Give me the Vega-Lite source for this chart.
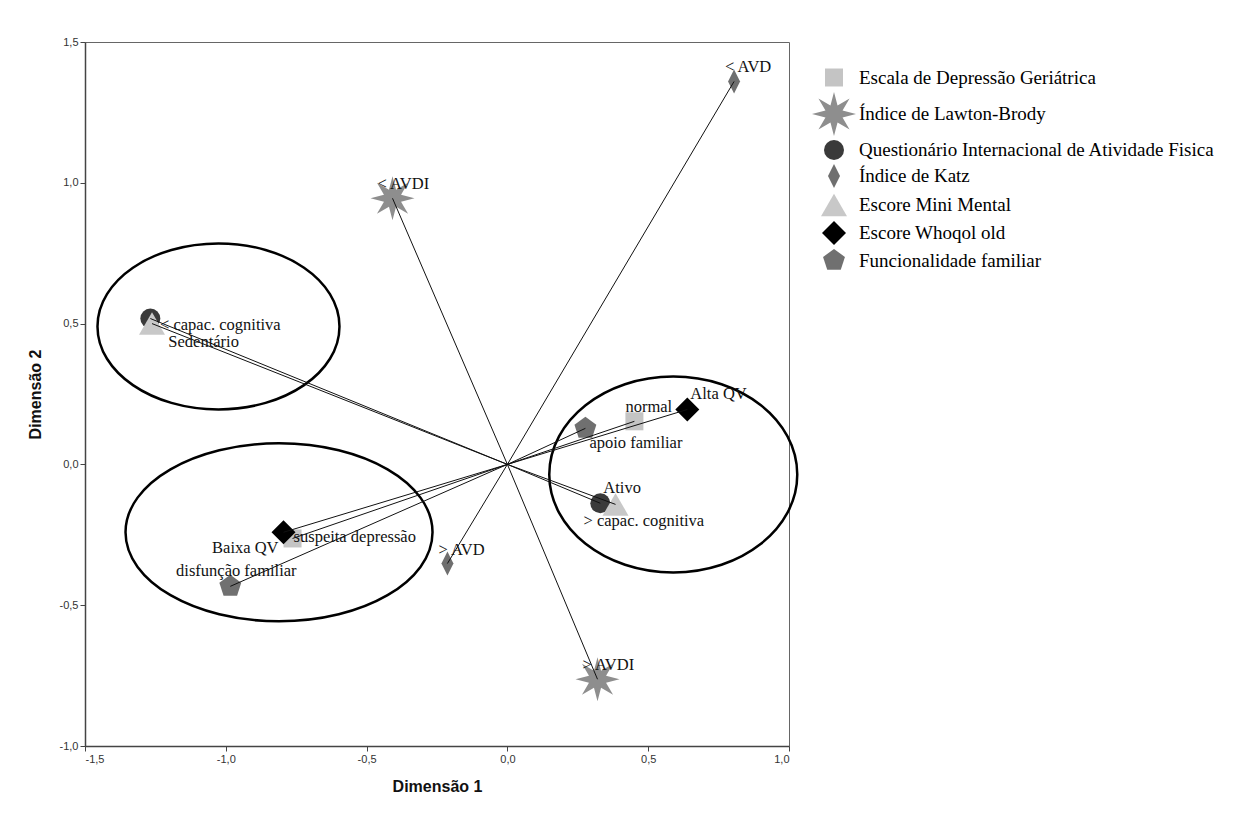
{
  "$schema": "https://vega.github.io/schema/vega-lite/v6.json",
  "width": 704,
  "height": 704,
  "autosize": {"type": "none"},
  "padding": {"left": 85, "top": 42, "right": 451, "bottom": 67},
  "background": "white",
  "config": {
    "view": {"stroke": "#666", "strokeWidth": 1},
    "axis": {
      "grid": false,
      "domainColor": "#444",
      "domainWidth": 1.5,
      "tickColor": "#444",
      "tickSize": 5,
      "tickWidth": 1,
      "labelColor": "#333",
      "labelFont": "Liberation Sans",
      "labelFontSize": 11,
      "labelPadding": 2,
      "titleFont": "Liberation Sans Narrow, Liberation Sans",
      "titleFontWeight": "bold",
      "titleFontSize": 16,
      "titleColor": "#111"
    },
    "text": {"font": "Liberation Serif", "fontSize": 16.5, "color": "#111", "baseline": "middle"}
  },
  "datasets": {
    "pontos": [
      {"variavel": "Escala de Depressão Geriátrica", "categoria": "normal", "d1": 0.451, "d2": 0.153},
      {"variavel": "Escala de Depressão Geriátrica", "categoria": "suspeita depressão", "d1": -0.763, "d2": -0.263},
      {"variavel": "Índice de Lawton-Brody", "categoria": "< AVDI", "d1": -0.408, "d2": 0.945},
      {"variavel": "Índice de Lawton-Brody", "categoria": "> AVDI", "d1": 0.32, "d2": -0.763},
      {"variavel": "Questionário Internacional de Atividade Fisica", "categoria": "Sedentário", "d1": -1.268, "d2": 0.518},
      {"variavel": "Questionário Internacional de Atividade Fisica", "categoria": "Ativo", "d1": 0.33, "d2": -0.138},
      {"variavel": "Índice de Katz", "categoria": "< AVD", "d1": 0.805, "d2": 1.36},
      {"variavel": "Índice de Katz", "categoria": "> AVD", "d1": -0.213, "d2": -0.352},
      {"variavel": "Escore Mini Mental", "categoria": "< capac. cognitiva", "d1": -1.262, "d2": 0.5},
      {"variavel": "Escore Mini Mental", "categoria": "> capac. cognitiva", "d1": 0.384, "d2": -0.142},
      {"variavel": "Escore Whoqol old", "categoria": "Alta QV", "d1": 0.639, "d2": 0.195},
      {"variavel": "Escore Whoqol old", "categoria": "Baixa QV", "d1": -0.795, "d2": -0.241},
      {"variavel": "Funcionalidade familiar", "categoria": "apoio familiar", "d1": 0.277, "d2": 0.128},
      {"variavel": "Funcionalidade familiar", "categoria": "disfunção familiar", "d1": -0.984, "d2": -0.433}
    ],
    "elipses": [
      {"grupo": "A", "d1": -1.026, "d2": 0.49},
      {"grupo": "B", "d1": -0.811, "d2": -0.241},
      {"grupo": "C", "d1": 0.589, "d2": -0.036}
    ]
  },
  "encoding": {
    "x": {
      "field": "d1", "type": "quantitative",
      "scale": {"domain": [-1.5, 1.0], "nice": false, "zero": false},
      "axis": {"values": [-1.5, -1, -0.5, 0, 0.5, 1], "labelExpr": "replace(replace(format(datum.value, '.1f'), '.', ','), '\u2212', '-')", "title": "Dimensão 1", "titlePadding": 14}
    },
    "y": {
      "field": "d2", "type": "quantitative",
      "scale": {"domain": [-1.0, 1.5], "nice": false, "zero": false},
      "axis": {"values": [-1, -0.5, 0, 0.5, 1, 1.5], "labelExpr": "replace(replace(format(datum.value, '.1f'), '.', ','), '\u2212', '-')", "title": "Dimensão 2", "titlePadding": 16}
    }
  },
  "layer": [
    {
      "data": {"name": "elipses"},
      "transform": [{"filter": "datum.grupo === 'A'"}],
      "mark": {"type": "point", "filled": false, "color": "black", "opacity": 1, "strokeWidth": 2.5, "size": 58564,
        "shape": "M-1,0C-1,-0.379,-0.552,-0.686,0,-0.686C0.552,-0.686,1,-0.379,1,0C1,0.379,0.552,0.686,0,0.686C-0.552,0.686,-1,0.379,-1,0Z"}
    },
    {
      "data": {"name": "elipses"},
      "transform": [{"filter": "datum.grupo === 'B'"}],
      "mark": {"type": "point", "filled": false, "color": "black", "opacity": 1, "strokeWidth": 2.5, "size": 94249,
        "shape": "M-1,0C-1,-0.32,-0.552,-0.58,0,-0.58C0.552,-0.58,1,-0.32,1,0C1,0.32,0.552,0.58,0,0.58C-0.552,0.58,-1,0.32,-1,0Z"}
    },
    {
      "data": {"name": "elipses"},
      "transform": [{"filter": "datum.grupo === 'C'"}],
      "mark": {"type": "point", "filled": false, "color": "black", "opacity": 1, "strokeWidth": 2.5, "size": 61504,
        "shape": "M-1,0C-1,-0.436,-0.552,-0.79,0,-0.79C0.552,-0.79,1,-0.436,1,0C1,0.436,0.552,0.79,0,0.79C-0.552,0.79,-1,0.436,-1,0Z"}
    },
    {
      "data": {"name": "pontos"},
      "mark": {"type": "point", "filled": true, "opacity": 1, "strokeWidth": 0},
      "encoding": {
        "shape": {
          "field": "variavel", "type": "nominal",
          "scale": {
            "domain": ["Escala de Depressão Geriátrica", "Índice de Lawton-Brody", "Questionário Internacional de Atividade Fisica", "Índice de Katz", "Escore Mini Mental", "Escore Whoqol old", "Funcionalidade familiar"],
            "range": ["square", "M0,-1L0.161,-0.388L0.707,-0.707L0.388,-0.161L1,0L0.388,0.161L0.707,0.707L0.161,0.388L0,1L-0.161,0.388L-0.707,0.707L-0.388,0.161L-1,0L-0.388,-0.161L-0.707,-0.707L-0.161,-0.388Z", "circle", "M0,-1L0.5,0L0,1L-0.5,0Z", "triangle-up", "diamond", "M0,-1L0.951,-0.309L0.588,0.809L-0.588,0.809L-0.951,-0.309Z"]
          },
          "legend": {"title": null, "orient": "none", "legendX": 727, "legendY": 26, "labelFont": "Liberation Serif", "labelFontSize": 19, "labelColor": "#000", "labelLimit": 600, "rowPadding": 4, "labelOffset": 3, "padding": 0, "symbolStrokeWidth": 0}
        },
        "color": {
          "field": "variavel", "type": "nominal",
          "scale": {
            "domain": ["Escala de Depressão Geriátrica", "Índice de Lawton-Brody", "Questionário Internacional de Atividade Fisica", "Índice de Katz", "Escore Mini Mental", "Escore Whoqol old", "Funcionalidade familiar"],
            "range": ["#c4c4c4", "#8e8e8e", "#3a3a3a", "#6f6f6f", "#c8c8c8", "#000000", "#707070"]
          },
          "legend": {"title": null, "orient": "none", "legendX": 727, "legendY": 26, "labelFont": "Liberation Serif", "labelFontSize": 19, "labelColor": "#000", "labelLimit": 600, "rowPadding": 4, "labelOffset": 3, "padding": 0, "symbolStrokeWidth": 0}
        },
        "size": {
          "field": "variavel", "type": "nominal",
          "scale": {
            "type": "ordinal",
            "domain": ["Escala de Depressão Geriátrica", "Índice de Lawton-Brody", "Questionário Internacional de Atividade Fisica", "Índice de Katz", "Escore Mini Mental", "Escore Whoqol old", "Funcionalidade familiar"],
            "range": [324, 1936, 400, 576, 676, 576, 529]
          },
          "legend": {"title": null, "orient": "none", "legendX": 727, "legendY": 26, "labelFont": "Liberation Serif", "labelFontSize": 19, "labelColor": "#000", "labelLimit": 600, "rowPadding": 4, "labelOffset": 3, "padding": 0, "symbolStrokeWidth": 0}
        }
      }
    },
    {
      "data": {"name": "pontos"},
      "mark": {"type": "rule", "color": "#111", "strokeWidth": 1},
      "encoding": {"x2": {"datum": 0}, "y2": {"datum": 0}}
    },
    {
      "data": {"name": "pontos"},
      "transform": [{"filter": {"field": "categoria", "oneOf": ["< AVD", "> AVD", "normal"]}}],
      "mark": {"type": "text", "align": "left", "dx": -9, "dy": -14},
      "encoding": {"text": {"field": "categoria"}}
    },
    {
      "data": {"name": "pontos"},
      "transform": [{"filter": {"field": "categoria", "oneOf": ["< AVDI", "> AVDI"]}}],
      "mark": {"type": "text", "align": "left", "dx": -15, "dy": -14},
      "encoding": {"text": {"field": "categoria"}}
    },
    {
      "data": {"name": "pontos"},
      "transform": [{"filter": {"field": "categoria", "oneOf": ["Alta QV", "Ativo"]}}],
      "mark": {"type": "text", "align": "left", "dx": 3, "dy": -15},
      "encoding": {"text": {"field": "categoria"}}
    },
    {
      "data": {"name": "pontos"},
      "transform": [{"filter": {"field": "categoria", "oneOf": ["apoio familiar"]}}],
      "mark": {"type": "text", "align": "left", "dx": 4, "dy": 15},
      "encoding": {"text": {"field": "categoria"}}
    },
    {
      "data": {"name": "pontos"},
      "transform": [{"filter": {"field": "categoria", "oneOf": ["> capac. cognitiva"]}}],
      "mark": {"type": "text", "align": "left", "dx": -32, "dy": 17},
      "encoding": {"text": {"field": "categoria"}}
    },
    {
      "data": {"name": "pontos"},
      "transform": [{"filter": {"field": "categoria", "oneOf": ["< capac. cognitiva"]}}],
      "mark": {"type": "text", "align": "left", "dx": 8, "dy": 1},
      "encoding": {"text": {"field": "categoria"}}
    },
    {
      "data": {"name": "pontos"},
      "transform": [{"filter": {"field": "categoria", "oneOf": ["Sedentário"]}}],
      "mark": {"type": "text", "align": "left", "dx": 18, "dy": 23},
      "encoding": {"text": {"field": "categoria"}}
    },
    {
      "data": {"name": "pontos"},
      "transform": [{"filter": {"field": "categoria", "oneOf": ["Baixa QV"]}}],
      "mark": {"type": "text", "align": "right", "dx": -5, "dy": 16},
      "encoding": {"text": {"field": "categoria"}}
    },
    {
      "data": {"name": "pontos"},
      "transform": [{"filter": {"field": "categoria", "oneOf": ["suspeita depressão"]}}],
      "mark": {"type": "text", "align": "left", "dx": 1, "dy": -1},
      "encoding": {"text": {"field": "categoria"}}
    },
    {
      "data": {"name": "pontos"},
      "transform": [{"filter": {"field": "categoria", "oneOf": ["disfunção familiar"]}}],
      "mark": {"type": "text", "align": "center", "dx": 6, "dy": -15},
      "encoding": {"text": {"field": "categoria"}}
    }
  ]
}
